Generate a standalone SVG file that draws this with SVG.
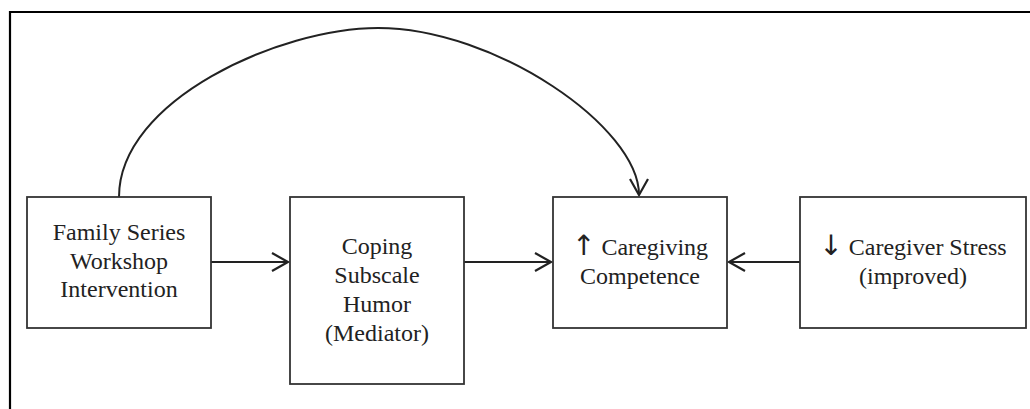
<svg xmlns="http://www.w3.org/2000/svg" width="1030" height="409" viewBox="0 0 1030 409">
<style>
.box{fill:#fff;stroke:#333;stroke-width:1.8}
.lbl{font-family:"Liberation Serif","Times New Roman",serif;font-size:24px;fill:#222;text-anchor:middle}
.sym{font-family:"DejaVu Sans",sans-serif;font-size:28px;fill:#222}
.con{fill:none;stroke:#222;stroke-width:2}
.frame{fill:none;stroke:#000;stroke-width:2.2}
</style>
<defs>
<marker id="arr" markerUnits="userSpaceOnUse" markerWidth="24" markerHeight="24" viewBox="-20 -12 24 24" refX="0" refY="0" orient="auto">
<path d="M-16,-9 L0,0 L-16,9" fill="none" stroke="#222" stroke-width="2.2"/>
</marker>
</defs>
<rect width="1030" height="409" fill="#fff"/>
<path class="frame" d="M10,409 V12 H1030"/>
<g id="connectors">
<path class="con" d="M119,197 C119,100 280,28 378,28 C495,28 639,127 639,195" marker-end="url(#arr)"/>
<line class="con" x1="211" y1="262" x2="288" y2="262" marker-end="url(#arr)"/>
<line class="con" x1="464" y1="262" x2="551" y2="262" marker-end="url(#arr)"/>
<line class="con" x1="800" y1="262" x2="729" y2="262" marker-end="url(#arr)"/>
</g>
<g id="node-intervention">
<rect class="box" x="27" y="197" width="184" height="131"/>
<text class="lbl" x="119" y="240">Family Series</text>
<text class="lbl" x="119" y="268.5">Workshop</text>
<text class="lbl" x="119" y="297">Intervention</text>
</g>
<g id="node-mediator">
<rect class="box" x="290" y="197" width="174" height="187"/>
<text class="lbl" x="377" y="254">Coping</text>
<text class="lbl" x="377" y="283">Subscale</text>
<text class="lbl" x="377" y="312">Humor</text>
<text class="lbl" x="377" y="341">(Mediator)</text>
</g>
<g id="node-competence">
<rect class="box" x="553" y="197" width="174" height="131"/>
<text class="lbl" x="640" y="255"><tspan class="sym">↑</tspan> Caregiving</text>
<text class="lbl" x="640" y="283.5">Competence</text>
</g>
<g id="node-stress">
<rect class="box" x="800" y="197" width="226" height="131"/>
<text class="lbl" x="913" y="255"><tspan class="sym">↓</tspan> Caregiver Stress</text>
<text class="lbl" x="913" y="283.5">(improved)</text>
</g>
</svg>
